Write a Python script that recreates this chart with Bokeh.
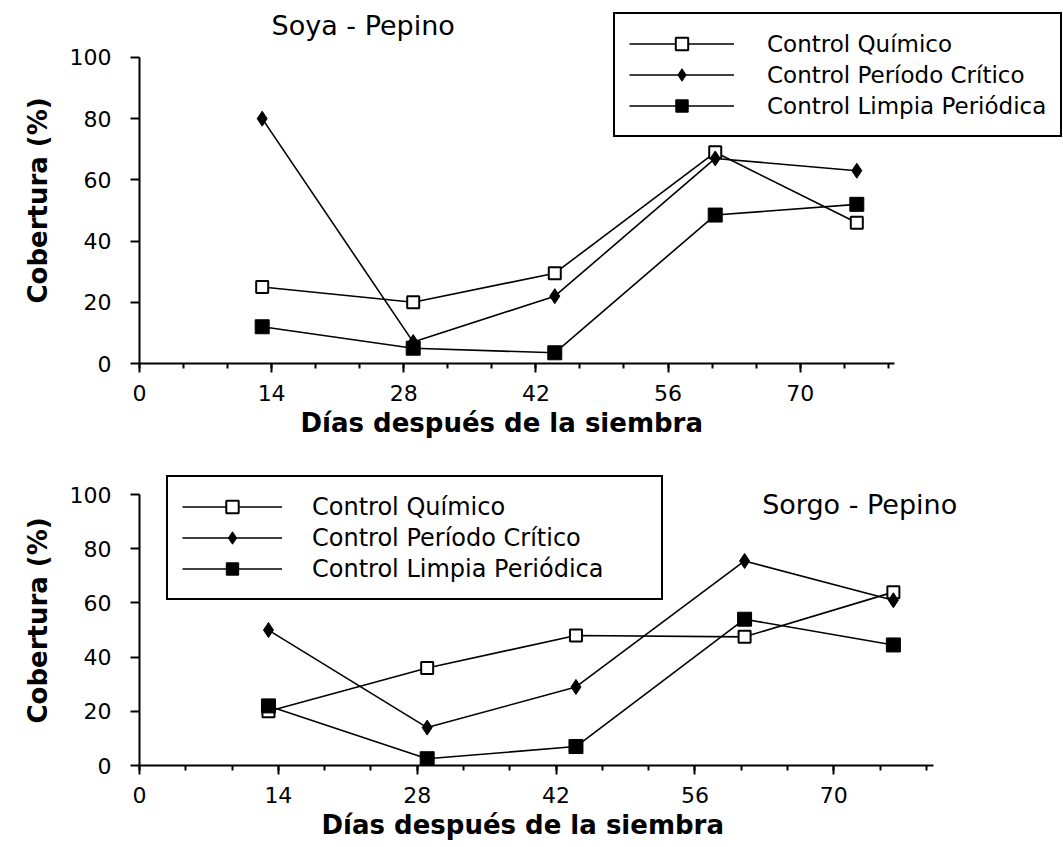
from bokeh.plotting import figure
from bokeh.models import (Range1d, SingleIntervalTicker, Legend, LegendItem, Label, Title)
from bokeh.layouts import column
from bokeh.embed import file_html
from bokeh.resources import INLINE

# ---------------- data ----------------
days = [13, 29, 44, 61, 76]
series_names = ["Control Químico", "Control Período Crítico", "Control Limpia Periódica"]

soya_quimico = [25, 20, 29.5, 69, 46]
soya_critico = [80, 7, 22, 67, 63]
soya_limpia = [12, 5, 3.5, 48.5, 52]

sorgo_quimico = [20, 36, 48, 47.5, 64]
sorgo_critico = [50, 14, 29, 75.5, 61]
sorgo_limpia = [22, 2.5, 7, 54, 44.5]

x_ticks = [0, 14, 28, 42, 56, 70]
y_ticks = [0, 20, 40, 60, 80, 100]
x_axis_end = 80

x_label = "Días después de la siembra"
y_label = "Cobertura (%)"

FONT = "DejaVu Sans"


def make_panel(title, quimico, critico, limpia, height, left, bottom, x_end, y_end,
               title_pos, legend_loc, legend_font, glyph_w, standoff, label_w,
               tick_standoff, xlab_offset, xlab_standoff, ylab_offset):
    p = figure(width=1063, height=height,
               x_range=Range1d(0, x_end), y_range=Range1d(0, y_end),
               output_backend="svg", toolbar_location=None,
               min_border_left=left, min_border_right=0, min_border_top=0,
               min_border_bottom=bottom, outline_line_color=None,
               background_fill_color="white", border_fill_color="white")
    p.xgrid.visible = False
    p.ygrid.visible = False

    # x axis
    xa = p.xaxis[0]
    xa.bounds = (x_ticks[0], x_axis_end)
    xa.ticker = SingleIntervalTicker(interval=x_ticks[1] - x_ticks[0], num_minor_ticks=3)
    xa.axis_line_width = 2
    xa.axis_line_color = "black"
    xa.major_tick_out = 9
    xa.major_tick_in = 0
    xa.minor_tick_out = 5
    xa.minor_tick_in = 0
    xa.major_tick_line_width = 2
    xa.minor_tick_line_width = 2
    xa.major_label_text_font = FONT
    xa.major_label_text_font_size = "22px"
    xa.major_label_text_color = "black"
    xa.major_label_standoff = tick_standoff

    # x axis title (left aligned so that it sits under the labelled 0-70 span)
    p.add_layout(Title(text=x_label, align="left", offset=xlab_offset, standoff=xlab_standoff,
                       text_font=FONT, text_font_style="bold",
                       text_font_size="26px", text_color="black"), "below")

    # y axis
    ya = p.yaxis[0]
    ya.bounds = (y_ticks[0], y_ticks[-1])
    ya.ticker = SingleIntervalTicker(interval=y_ticks[1] - y_ticks[0], num_minor_ticks=0)
    ya.axis_line_width = 2
    ya.axis_line_color = "black"
    ya.major_tick_out = 9
    ya.major_tick_in = 0
    ya.major_tick_line_width = 2
    ya.major_label_text_font = FONT
    ya.major_label_text_font_size = "22px"
    ya.major_label_text_color = "black"
    ya.major_label_standoff = 19

    # y axis title (sits beside the labelled 0-100 span)
    p.add_layout(Title(text=y_label, align="left", offset=ylab_offset, standoff=28,
                       text_font=FONT, text_font_style="bold",
                       text_font_size="26px", text_color="black"), "left")

    # series
    l1 = p.line(days, quimico, line_color="black", line_width=1.6)
    m1 = p.scatter(days, quimico, marker="square", size=12, fill_color="white",
                   line_color="black", line_width=2)
    l2 = p.line(days, critico, line_color="black", line_width=1.6)
    m2 = p.scatter(days, critico, marker="diamond", size=15, fill_color="black",
                   line_color="black")
    l3 = p.line(days, limpia, line_color="black", line_width=1.6)
    m3 = p.scatter(days, limpia, marker="square", size=14, fill_color="black",
                   line_color="black")

    legend = Legend(items=[
        LegendItem(label=series_names[0], renderers=[l1, m1]),
        LegendItem(label=series_names[1], renderers=[l2, m2]),
        LegendItem(label=series_names[2], renderers=[l3, m3]),
    ], location=legend_loc)
    legend.glyph_width = glyph_w
    legend.glyph_height = 31
    legend.label_height = 31
    legend.label_width = label_w
    legend.spacing = 0
    legend.padding = 14
    legend.margin = 0
    legend.label_standoff = standoff
    legend.label_text_font = FONT
    legend.label_text_font_size = legend_font
    legend.label_text_color = "black"
    legend.border_line_color = "black"
    legend.border_line_alpha = 1
    legend.border_line_width = 2
    legend.background_fill_color = "white"
    legend.background_fill_alpha = 1
    p.add_layout(legend)

    p.add_layout(Label(x=title_pos[0], y=title_pos[1], text=title,
                       text_align="center", text_baseline="middle",
                       text_font=FONT, text_font_size="27px", text_color="black"))
    return p


top = make_panel("Soya - Pepino", soya_quimico, soya_critico, soya_limpia,
                 height=444, left=139, bottom=81, x_end=97.9, y_end=118.6,
                 title_pos=(23.7, 110.5), legend_loc=(474, 226), legend_font="23px",
                 glyph_w=105, standoff=33, label_w=278,
                 tick_standoff=12, xlab_offset=161, xlab_standoff=4, ylab_offset=60)

bottom = make_panel("Sorgo - Pepino", sorgo_quimico, sorgo_critico, sorgo_limpia,
                    height=403, left=138, bottom=82, x_end=93.15, y_end=118.5,
                    title_pos=(72.6, 96.3), legend_loc=(27, 165), legend_font="24px",
                    glyph_w=100, standoff=30, label_w=335,
                    tick_standoff=12, xlab_offset=182, xlab_standoff=5, ylab_offset=42)

layout = column(top, bottom, spacing=0)
open("out.html", "w").write(file_html(layout, INLINE))
